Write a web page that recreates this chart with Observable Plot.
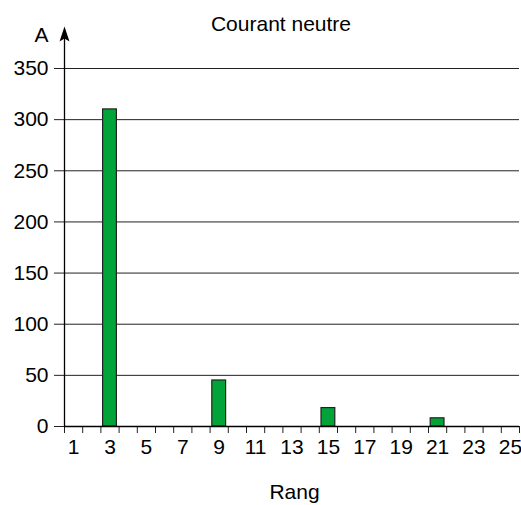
<!DOCTYPE html>
<html>
<head>
<meta charset="utf-8">
<script src="https://cdn.jsdelivr.net/npm/d3@7"></script>
<script src="https://cdn.jsdelivr.net/npm/@observablehq/plot@0.6"></script>
<style>
  html, body { margin: 0; padding: 0; background: #fff; }
  svg { display: block; }
</style>
</head>
<body>
<div id="chart"></div>
<script>
const title = "Courant neutre";
const yUnit = "A";
const xLabel = "Rang";
const ranks = [3, 9, 15, 21];
const current = [310, 45, 18, 8];
const yTicks = [0, 50, 100, 150, 200, 250, 300, 350];
const xTickLabels = [1, 3, 5, 7, 9, 11, 13, 15, 17, 19, 21, 23, 25];
const rankMin = 1, rankMax = 25;

const data = ranks.map((r, i) => ({rang: r, value: current[i]}));
const boundaries = d3.range(rankMin - 0.5, rankMax + 1, 1);

const FONT = "Liberation Sans, Arial, Helvetica, sans-serif";
const FS = 21;

const arrowHead = {
  draw(ctx, size) {
    ctx.moveTo(0, 0);
    ctx.lineTo(5, 15);
    ctx.lineTo(0, 12);
    ctx.lineTo(-5, 15);
    ctx.closePath();
  }
};

const chart = Plot.plot({
  width: 521,
  height: 505,
  marginLeft: 64,
  marginRight: 2,
  marginTop: 68,
  marginBottom: 79,
  style: {fontFamily: FONT, fontSize: FS + "px", color: "#000", background: "#fff"},
  x: {type: "linear", domain: [rankMin - 0.5, rankMax + 0.5]},
  y: {domain: [0, 350]},
  marks: [
    Plot.gridY(yTicks, {stroke: "#222", strokeOpacity: 1, strokeWidth: 1}),
    Plot.axisY({ticks: yTicks, tickSize: 10, tickPadding: 6, fontSize: FS, label: null, stroke: "#222"}),
    Plot.axisX({ticks: boundaries, tickFormat: () => "", tickSize: 7, label: null, stroke: "#222"}),
    Plot.axisX({ticks: xTickLabels, tickSize: 0, tickPadding: 13, fontSize: FS, label: null}),
    Plot.rectY(data, {
      x1: d => d.rang - 0.5,
      x2: d => d.rang + 0.5,
      y: "value",
      fill: "#02a43a",
      stroke: "#222",
      strokeWidth: 1.2,
      insetLeft: 2.2,
      insetRight: 2.2
    }),
    Plot.ruleY([0], {stroke: "#000", strokeWidth: 1.3}),
    Plot.ruleX([rankMin - 0.5], {y1: 0, y2: 383, stroke: "#000", strokeWidth: 1.3}),
    Plot.dot([rankMin - 0.5], {x: d => d, y: 391, symbol: arrowHead, fill: "#000", stroke: "none", r: 5}),
    Plot.text([title], {frameAnchor: "top", dx: -11, dy: -44, lineAnchor: "middle", fontSize: FS, fill: "#000"}),
    Plot.text([yUnit], {frameAnchor: "top-left", dx: -16, dy: -33, textAnchor: "end", lineAnchor: "middle", fontSize: FS, fill: "#000"}),
    Plot.text([xLabel], {frameAnchor: "bottom", dx: 2.5, dy: 66, lineAnchor: "middle", fontSize: FS, fill: "#000"})
  ]
});

document.getElementById("chart").appendChild(chart);
</script>
</body>
</html>
